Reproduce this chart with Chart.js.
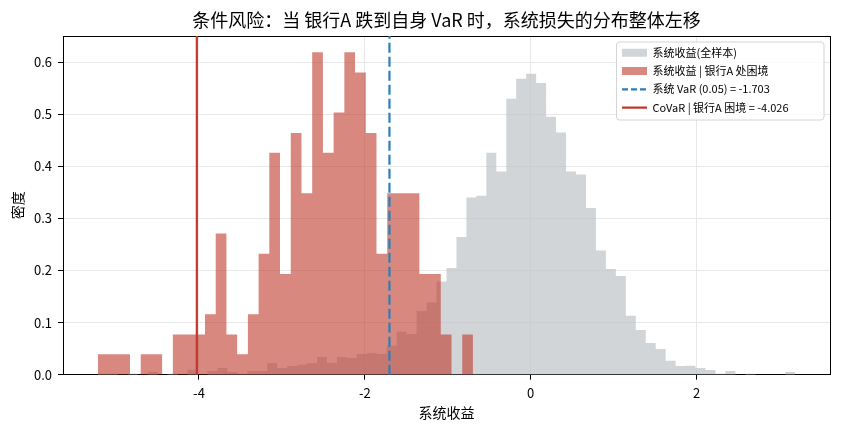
<!DOCTYPE html>
<html>
<head>
<meta charset="utf-8">
<script src="https://cdn.jsdelivr.net/npm/chart.js@4.4.1/dist/chart.umd.min.js"></script>
<style>
  body { margin: 0; background: #fff; }
  #wrap { width: 841px; height: 433px; }
</style>
</head>
<body>
<div id="wrap"><canvas id="chart" width="841" height="433"></canvas></div>
<script>
// histogram of the full sample (70 bins, density)
var grayEdgeMin = -5.22
var grayEdgeMax = 3.19
var grayDensity = [
  0.002, 0.002, 0, 0.002, 0, 0.005, 0, 0.002, 0, 0.0096,
  0, 0.007, 0.0128, 0.005, 0.002, 0.007, 0.007, 0.0224, 0.0128, 0.0166,
  0.0192, 0.0224, 0.034, 0.0224, 0.034, 0.032, 0.0397, 0.0416, 0.0397, 0.0557,
  0.0826, 0.078, 0.1223, 0.1383, 0.1786, 0.2049, 0.2644, 0.34, 0.3432, 0.4258,
  0.39, 0.5295, 0.568, 0.5775, 0.56, 0.495, 0.4649, 0.39, 0.3842, 0.32,
  0.2382, 0.203, 0.1895, 0.1133, 0.0858, 0.0608, 0.0493, 0.0269, 0.0166, 0.017,
  0.0128, 0.009, 0.002, 0.007, 0, 0.002, 0, 0, 0, 0.005,
]

// histogram conditional on bank A distress (35 bins, density)
var redEdgeMin = -5.22
var redEdgeMax = -0.696
var redDensity = [
  0.039, 0.039, 0.039, 0, 0.039, 0.039, 0, 0.077, 0.077, 0.077,
  0.116, 0.271, 0.077, 0.039, 0.116, 0.232, 0.426, 0.193, 0.464, 0.348,
  0.619, 0.426, 0.503, 0.619, 0.58, 0.464, 0.232, 0.348, 0.348, 0.348,
  0.193, 0.193, 0.077, 0, 0.077,
]

var varValue = -1.703
var covarValue = -4.026

var xTicks = [-4, -2, 0, 2]
var yTicks = [0, 0.1, 0.2, 0.3, 0.4, 0.5, 0.6]
var xMin = -5.64
var xMax = 3.61
var yMax = 0.65

var legendLabels = [
  '系统收益(全样本)',
  '系统收益 | 银行A 处困境',
  '系统 VaR (0.05) = -1.703',
  'CoVaR | 银行A 困境 = -4.026',
]

var grayFill = 'rgba(189,195,199,0.7)'
var redFill = 'rgba(192,57,43,0.6)'
var blueLine = '#2980b9'
var redLine = '#c0392b'
var fontFamily = "'Noto Sans CJK SC', 'Noto Sans', sans-serif"

// step outline for a histogram: one point per left bin edge + closing edge
function stepPoints(edgeMin, edgeMax, values) {
  var w = (edgeMax - edgeMin) / values.length
  var pts = values.map(function (v, i) {
    return { x: edgeMin + i * w, y: v }
  })
  pts.push({ x: edgeMax, y: values[values.length - 1] })
  return pts
}

function vline(x) {
  return [{ x: x, y: 0 }, { x: x, y: yMax }]
}

function drawLegendFrame(ctx) {
  var x = 616.5, y = 42, w = 207.5, h = 78, r = 3
  ctx.save()
  ctx.beginPath()
  ctx.moveTo(x + r, y)
  ctx.arcTo(x + w, y, x + w, y + h, r)
  ctx.arcTo(x + w, y + h, x, y + h, r)
  ctx.arcTo(x, y + h, x, y, r)
  ctx.arcTo(x, y, x + w, y, r)
  ctx.closePath()
  ctx.fillStyle = 'rgba(255,255,255,0.8)'
  ctx.fill()
  ctx.strokeStyle = '#d4d4d4'
  ctx.lineWidth = 1
  ctx.stroke()
  ctx.restore()
}

// put the legend in the upper right of the plot, with a frame
var legendPlacer = {
  id: 'legendPlacer',
  afterLayout: function (chart) {
    var lg = chart.legend
    lg.left = 614.7
    lg.top = 39.9
    lg.right = 830
    lg.bottom = 374
    if (!lg._framed) {
      var baseDraw = lg.draw
      lg.draw = function () {
        drawLegendFrame(chart.ctx)
        baseDraw.apply(this, arguments)
      }
      lg._framed = true
    }
  },
}

var tickFont = { family: fontFamily, size: 13 }
var titleFont = { family: fontFamily, size: 14 }

new Chart(document.getElementById('chart'), {
  type: 'line',
  data: {
    datasets: [
      {
        label: legendLabels[0],
        data: stepPoints(grayEdgeMin, grayEdgeMax, grayDensity),
        stepped: 'before',
        fill: 'origin',
        backgroundColor: grayFill,
        borderColor: 'rgba(0,0,0,0)',
        borderWidth: 0,
        pointRadius: 0,
        order: 4,
      },
      {
        label: legendLabels[1],
        data: stepPoints(redEdgeMin, redEdgeMax, redDensity),
        stepped: 'before',
        fill: 'origin',
        backgroundColor: redFill,
        borderColor: 'rgba(0,0,0,0)',
        borderWidth: 0,
        pointRadius: 0,
        order: 3,
      },
      {
        label: legendLabels[2],
        data: vline(varValue),
        borderColor: blueLine,
        borderWidth: 2.2,
        borderDash: [10, 4],
        pointRadius: 0,
        fill: false,
        order: 2,
      },
      {
        label: legendLabels[3],
        data: vline(covarValue),
        borderColor: redLine,
        borderWidth: 2.2,
        pointRadius: 0,
        fill: false,
        order: 1,
      },
    ],
  },
  options: {
    responsive: false,
    animation: false,
    layout: { padding: { left: 0, right: 11, top: 0, bottom: 0 } },
    scales: {
      x: {
        type: 'linear',
        min: xMin,
        max: xMax,
        afterBuildTicks: function (scale) {
          scale.ticks = xTicks.map(function (v) { return { value: v } })
        },
        afterFit: function (scale) {
          scale.height = 58.33
        },
        ticks: {
          font: tickFont,
          color: '#000',
          padding: 5.5,
          maxRotation: 0,
          callback: function (v) { return String(v) },
        },
        grid: { color: '#e8e8e8', tickColor: '#000', tickLength: 5 },
        border: { display: true, color: '#000', width: 1 },
        title: {
          display: true,
          text: '系统收益',
          font: titleFont,
          color: '#000',
          padding: { top: 0, bottom: 11.6 },
        },
      },
      y: {
        type: 'linear',
        min: 0,
        max: yMax,
        afterBuildTicks: function (scale) {
          scale.ticks = yTicks.map(function (v) { return { value: v } })
        },
        afterFit: function (scale) {
          scale.width = 63
        },
        ticks: {
          font: tickFont,
          color: '#000',
          padding: 6,
          callback: function (v) { return v.toFixed(1) },
        },
        grid: { color: '#e8e8e8', tickColor: '#000', tickLength: 5 },
        border: { display: true, color: '#000', width: 1 },
        title: {
          display: true,
          text: '密度',
          font: titleFont,
          color: '#000',
          padding: { top: 9.6, bottom: 0 },
        },
      },
      xTop: {
        type: 'linear',
        position: 'top',
        ticks: { display: false },
        grid: { display: false, drawTicks: false },
        border: { display: true, color: '#000', width: 1 },
        afterFit: function (scale) {
          scale.height = 0
        },
      },
      yRight: {
        type: 'linear',
        position: 'right',
        ticks: { display: false },
        grid: { display: false, drawTicks: false },
        border: { display: true, color: '#000', width: 1 },
        afterFit: function (scale) {
          scale.width = 0
        },
      },
    },
    plugins: {
      title: {
        display: true,
        fullSize: false,
        text: '条件风险：当 银行A 跌到自身 VaR 时，系统损失的分布整体左移',
        font: { family: fontFamily, size: 18, weight: 'normal' },
        color: '#000',
        padding: { top: 9.2, bottom: 5.2 },
      },
      legend: {
        display: true,
        position: 'chartArea',
        align: 'start',
        labels: {
          usePointStyle: true,
          pointStyleWidth: 25,
          boxHeight: 8,
          padding: 7.3,
          color: '#000',
          font: { family: fontFamily, size: 11 },
          generateLabels: function () {
            return [
              { text: legendLabels[0], fillStyle: grayFill, strokeStyle: 'rgba(0,0,0,0)', lineWidth: 0, pointStyle: 'rect', fontColor: '#000', hidden: false, datasetIndex: 0 },
              { text: legendLabels[1], fillStyle: redFill, strokeStyle: 'rgba(0,0,0,0)', lineWidth: 0, pointStyle: 'rect', fontColor: '#000', hidden: false, datasetIndex: 1 },
              { text: legendLabels[2], fillStyle: 'rgba(0,0,0,0)', strokeStyle: blueLine, lineWidth: 2.2, lineDash: [6, 3], pointStyle: 'line', fontColor: '#000', hidden: false, datasetIndex: 2 },
              { text: legendLabels[3], fillStyle: 'rgba(0,0,0,0)', strokeStyle: redLine, lineWidth: 2.2, pointStyle: 'line', fontColor: '#000', hidden: false, datasetIndex: 3 },
            ]
          },
        },
      },
      tooltip: { enabled: false },
    },
  },
  plugins: [legendPlacer],
})
</script>
</body>
</html>
